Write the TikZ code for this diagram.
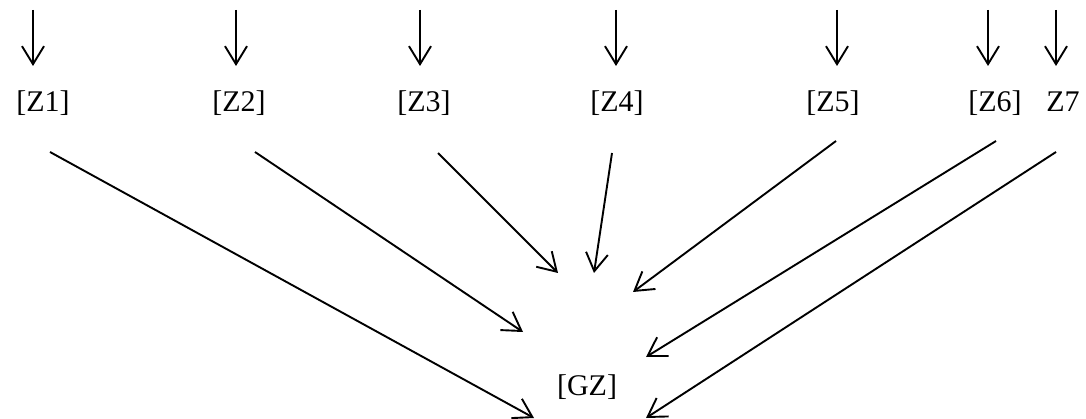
\documentclass[tikz,border=0pt]{standalone}
\usepackage{fontspec}
\setmainfont{Liberation Serif}
\usetikzlibrary{arrows.meta}
\begin{document}
\begin{tikzpicture}[x=1pt,y=-1pt,
  lbl/.style={anchor=base,inner sep=0pt,font=\fontsize{30}{36}\selectfont},
  arr/.style={line width=1.9pt,-{Straight Barb[length=18pt,width=22pt,line width=1.9pt]}}]
\useasboundingbox (0,0) rectangle (1086,419);
% labels
\node[lbl] (z1) at (43,112) {[Z1]};
\node[lbl] (z2) at (239,112) {[Z2]};
\node[lbl] (z3) at (424,112) {[Z3]};
\node[lbl] (z4) at (617,112) {[Z4]};
\node[lbl] (z5) at (833,112) {[Z5]};
\node[lbl] (z6) at (995,112) {[Z6]};
\node[lbl] (z7) at (1063,112) {Z7};
\node[lbl] (gz) at (587,395) {[GZ]};
% top arrows
\foreach \i/\x in {1/33,2/236,3/420,4/616,5/837,6/988,7/1056}{
  \coordinate (t\i) at (\x,10);
  \coordinate (b\i) at (\x,66);
  \draw[arr] (t\i) -- (b\i);
}
% converging arrows
\coordinate (s1) at (50,152);   \coordinate (e1) at (534,418);
\coordinate (s2) at (255,152);  \coordinate (e2) at (523,332);
\coordinate (s3) at (438,153);  \coordinate (e3) at (558,273);
\coordinate (s4) at (612,153);  \coordinate (e4) at (594,273);
\coordinate (s5) at (836,141);  \coordinate (e5) at (633,292);
\coordinate (s6) at (996,141);  \coordinate (e6) at (646,357);
\coordinate (s7) at (1056,152); \coordinate (e7) at (646,418);
\foreach \i in {1,...,7}{\draw[arr] (s\i) -- (e\i);}
\end{tikzpicture}
\end{document}
